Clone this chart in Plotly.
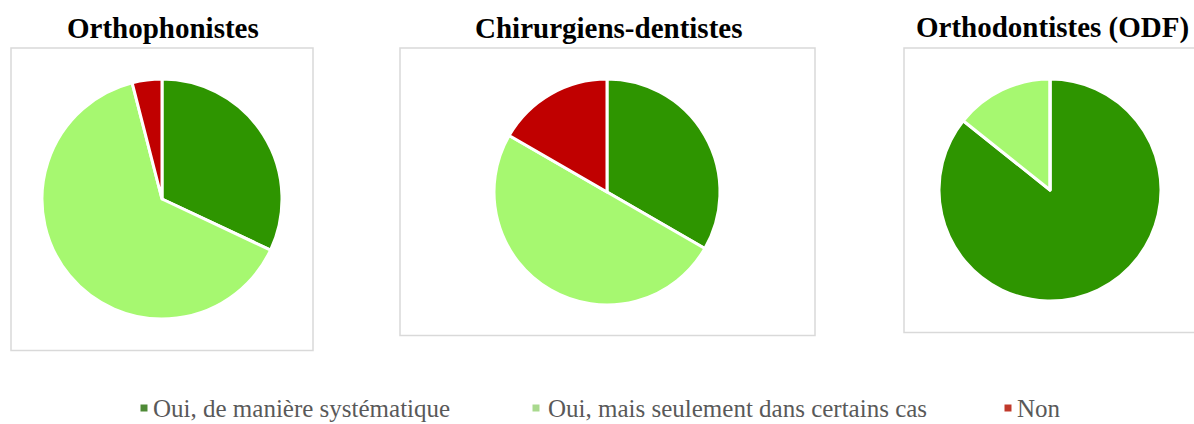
import plotly.graph_objects as go

W, H = 1194, 424

titles = ["Orthophonistes", "Chirurgiens-dentistes", "Orthodontistes (ODF)"]
labels = ["Oui, de manière systématique", "Oui, mais seulement dans certains cas", "Non"]
ortho_values = [8, 16, 1]
dentist_values = [6, 9, 3]
odf_values = [6, 1, 0]
slice_colors = ["#2E9500", "#A6F870", "#C00000"]
legend_colors = ["#4E8A36", "#A9D98E", "#C0392B"]

series = [ortho_values, dentist_values, odf_values]
# pixel layout (left, top, right, bottom) for pie domains and boxes
pie_px = [(42, 79, 282, 319), (494, 79, 720, 305), (938, 79, 1162, 301)]
box_px = [(11, 48, 313, 350.5), (400, 48, 815, 335.5), (904, 48, 1210, 332.5)]
title_x = [163, 608, 1052]

def fx(p):
    return p / W

def fy(p):
    return 1 - p / H

fig = go.Figure()
for vals, (l, t, r, b) in zip(series, pie_px):
    fig.add_trace(go.Pie(
        labels=labels, values=vals, sort=False, direction="clockwise", rotation=0,
        marker=dict(colors=slice_colors, line=dict(color="white", width=3)),
        textinfo="none", hoverinfo="label+value+percent", showlegend=False,
        domain=dict(x=[fx(l), fx(r)], y=[fy(b), fy(t)]),
    ))

shapes = []
for (l, t, r, b) in box_px:
    shapes.append(dict(type="rect", xref="paper", yref="paper",
                       x0=fx(l), x1=fx(r), y0=fy(b), y1=fy(t),
                       line=dict(color="#D9D9D9", width=1.5), layer="below"))

annotations = []
for tx, tt in zip(title_x, titles):
    annotations.append(dict(text="<b>%s</b>" % tt, x=fx(tx), y=fy(28), xref="paper", yref="paper",
                            showarrow=False, xanchor="center", yanchor="middle",
                            font=dict(family="Liberation Serif", size=29, color="black")))

legend_sq_x = [140.5, 532.5, 1004.5]
legend_txt_x = [151, 546, 1015]
for sx, txx, lab, col in zip(legend_sq_x, legend_txt_x, labels, legend_colors):
    shapes.append(dict(type="rect", xref="paper", yref="paper",
                       x0=fx(sx), x1=fx(sx + 7), y0=fy(411.5), y1=fy(404.5),
                       line=dict(width=0), fillcolor=col))
    annotations.append(dict(text=lab, x=fx(txx), y=fy(408.5), xref="paper", yref="paper",
                            showarrow=False, xanchor="left", yanchor="middle",
                            font=dict(family="Liberation Serif", size=25, color="#595959")))

fig.update_layout(
    width=W, height=H, margin=dict(l=0, r=0, t=0, b=0),
    paper_bgcolor="white", plot_bgcolor="white",
    shapes=shapes, annotations=annotations,
)
fig.write_html("out.html", config={"displayModeBar": False},
               post_script="document.body.style.margin='0';document.body.style.overflow='hidden';")
